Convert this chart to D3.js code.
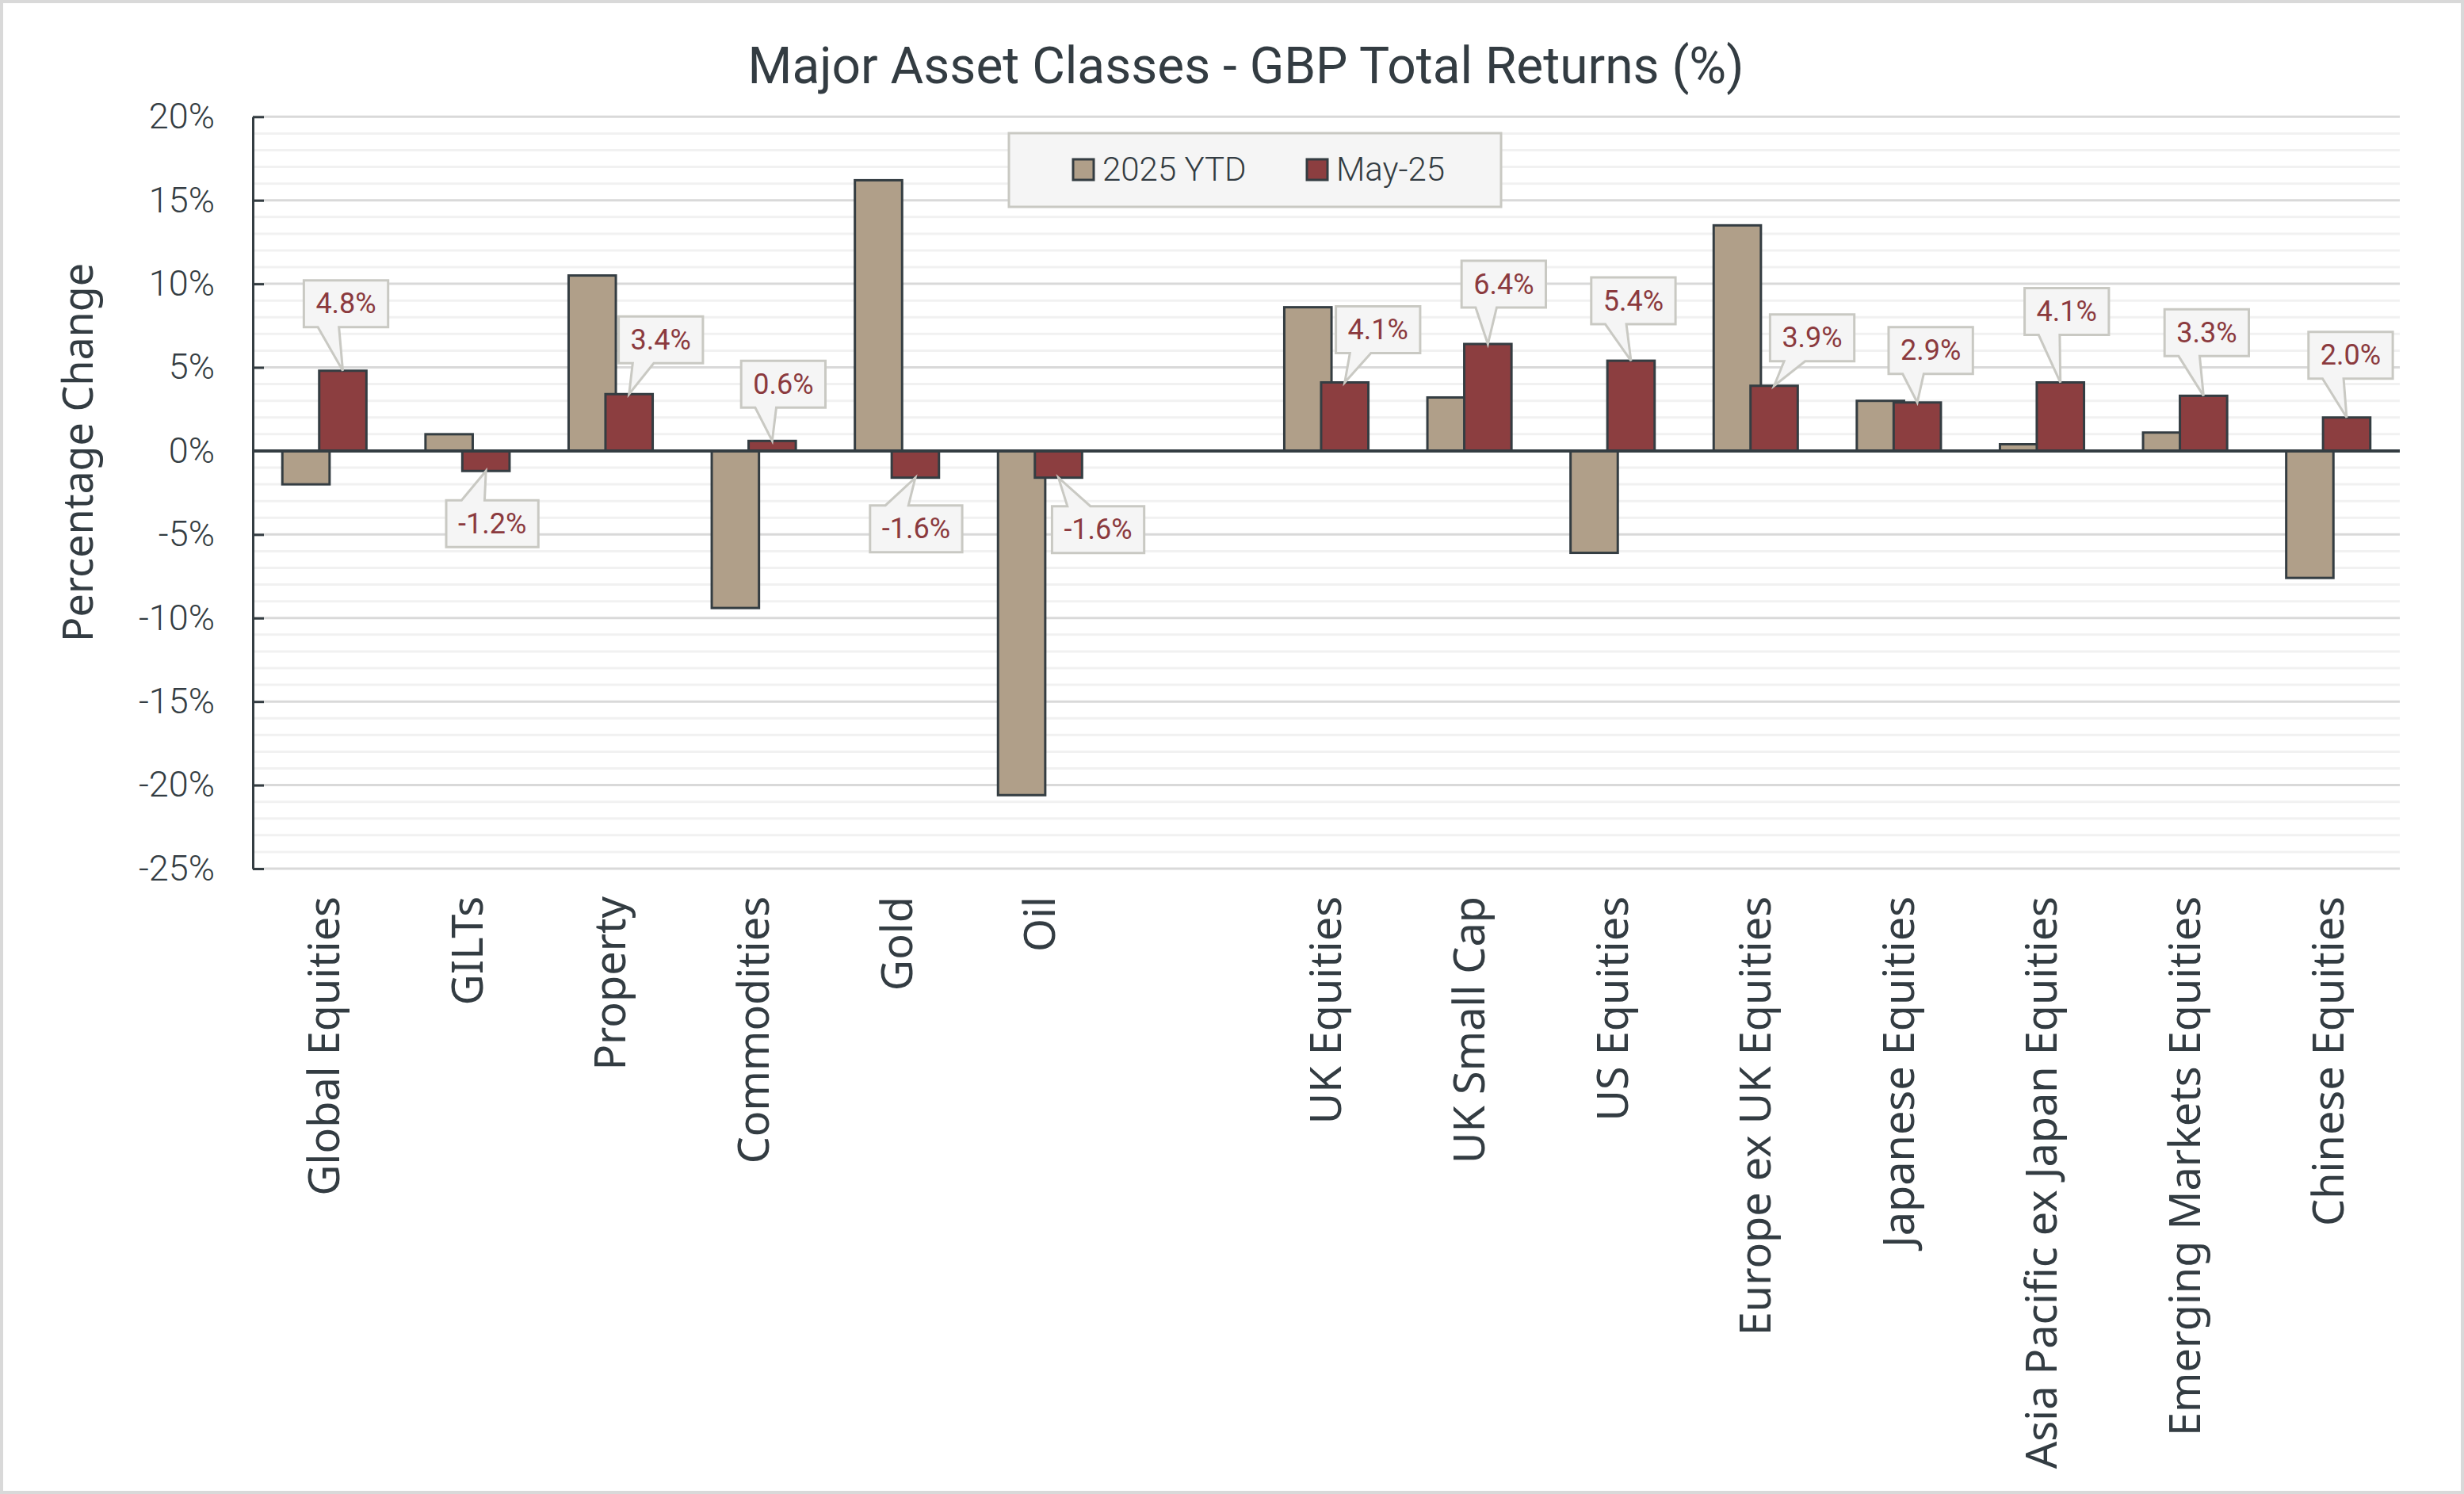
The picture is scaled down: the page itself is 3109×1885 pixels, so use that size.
<!DOCTYPE html>
<html>
<head>
<meta charset="utf-8">
<script src="https://cdn.jsdelivr.net/npm/d3@7"></script>
<style>
  body { margin: 0; background: #fff; }
  svg { display: block; }
</style>
</head>
<body>
<svg id="chart"></svg>
<script>
// categories ("" is the empty slot between the two groups)
const categories = ["Global Equities", "GILTs", "Property", "Commodities", "Gold", "Oil", "",
  "UK Equities", "UK Small Cap", "US Equities", "Europe ex UK Equities", "Japanese Equities",
  "Asia Pacific ex Japan Equities", "Emerging Markets Equities", "Chinese Equities"]
const seriesNames = ["2025 YTD", "May-25"]
const ytd = [-2.0, 1.0, 10.5, -9.4, 16.2, -20.6, null, 8.6, 3.2, -6.1, 13.5, 3.0, 0.4, 1.1, -7.6]
const may = [4.8, -1.2, 3.4, 0.6, -1.6, -1.6, null, 4.1, 6.4, 5.4, 3.9, 2.9, 4.1, 3.3, 2.0]
const yTicks = [-25, -20, -15, -10, -5, 0, 5, 10, 15, 20]

// callout placement (box centre offset from bar end, gap between bar end and box)
const calloutDx = [4, 8, 40, 14, 1, 50, null, 42, 20, 3, 48, 17, 8, 4, 5]
const calloutGap = [55, 37, 39, 42, 35, 36, null, 37, 46, 46, 31, 36, 60, 50, 49]

const W = 3109, H = 1885
const dark = "#343d42"
const colors = ["#b09f89", "#8c3e40"]

const svg = d3.select("#chart").attr("width", W).attr("height", H)

svg.append("rect")
  .attr("x", 2).attr("y", 2).attr("width", W - 4).attr("height", H - 4)
  .attr("fill", "#fff").attr("stroke", "#d9d9d9").attr("stroke-width", 4)

const plot = { left: 319, right: 3028, top: 147.3, bottom: 1096 }

const x = d3.scaleBand().domain(d3.range(categories.length)).range([plot.left, plot.right])
const y = d3.scaleLinear().domain([-25, 20]).range([plot.bottom, plot.top])

const barW = x.bandwidth() * 0.33
const shift = barW * 0.39
const barX = (i, s) => x(i) + x.bandwidth() / 2 + (s === 0 ? -shift : shift) - barW / 2

// grid
svg.append("g").selectAll("line").data(d3.range(-25, 21, 1).filter(d => d % 5 !== 0)).join("line")
  .attr("x1", plot.left).attr("x2", plot.right)
  .attr("y1", d => y(d)).attr("y2", d => y(d))
  .attr("stroke", "#f1f1f1").attr("stroke-width", 3)
svg.append("g").selectAll("line").data(yTicks).join("line")
  .attr("x1", plot.left).attr("x2", plot.right)
  .attr("y1", d => y(d)).attr("y2", d => y(d))
  .attr("stroke", "#d9d9d9").attr("stroke-width", 3)

// title
svg.append("text")
  .attr("x", 1572).attr("y", 105)
  .attr("text-anchor", "middle")
  .style("font-family", "Roboto").style("font-size", "64px")
  .attr("fill", "#333c42")
  .text("Major Asset Classes - GBP Total Returns (%)")

// y axis
const yAxis = d3.axisLeft(y).tickValues(yTicks).tickFormat(d => d + "%")
  .tickSizeInner(-14).tickSizeOuter(0).tickPadding(48)
const yAxisGroup = svg.append("g").attr("transform", `translate(${plot.left},0)`).call(yAxis)
yAxisGroup.select(".domain").attr("stroke", dark).attr("stroke-width", 3)
yAxisGroup.selectAll(".tick line").attr("stroke", dark).attr("stroke-width", 3)
yAxisGroup.selectAll(".tick text")
  .style("font-family", "Roboto").style("font-weight", 300).style("font-size", "45px")
  .attr("fill", "#333c42")

svg.append("text")
  .attr("transform", "translate(99,571) rotate(-90)")
  .attr("text-anchor", "middle").attr("dy", "0.35em")
  .style("font-family", "Noto Sans").style("font-size", "52px")
  .attr("fill", "#333c42")
  .text("Percentage Change")

// bars
const series = [ytd, may]
series.forEach((vals, s) => {
  svg.append("g").selectAll("rect").data(vals.map((v, i) => ({ v, i })).filter(d => d.v !== null)).join("rect")
    .attr("x", d => barX(d.i, s))
    .attr("width", barW)
    .attr("y", d => y(Math.max(0, d.v)))
    .attr("height", d => Math.abs(y(d.v) - y(0)))
    .attr("fill", colors[s])
    .attr("stroke", dark).attr("stroke-width", 3)
})

// zero line
svg.append("line")
  .attr("x1", plot.left).attr("x2", plot.right)
  .attr("y1", y(0)).attr("y2", y(0))
  .attr("stroke", dark).attr("stroke-width", 4)

// category labels
svg.append("g").selectAll("text").data(categories).join("text")
  .attr("transform", (d, i) => `translate(${x(i) + x.bandwidth() / 2},1131) rotate(-90)`)
  .attr("text-anchor", "end").attr("dy", "0.35em")
  .style("font-family", "Noto Sans").style("font-size", "54px")
  .attr("fill", "#333c42")
  .text(d => d)

// callouts on May-25 bars
const boxH = 59
const callouts = svg.append("g")
may.forEach((v, i) => {
  if (v === null) return
  const tipX = barX(i, 1) + barW / 2
  const tipY = y(v)
  const g = callouts.append("g")
  const txt = g.append("text")
    .attr("text-anchor", "middle").attr("dominant-baseline", "central")
    .style("font-family", "Roboto").style("font-size", "36px")
    .attr("fill", "#8b3a3e")
    .text(v.toFixed(1) + "%")
  const bw = txt.node().getComputedTextLength() + 30
  const cx = tipX + calloutDx[i]
  const l = cx - bw / 2, r = cx + bw / 2
  let t, b
  if (v >= 0) { b = tipY - calloutGap[i]; t = b - boxH } else { t = tipY + calloutGap[i]; b = t + boxH }
  const right = tipX > cx
  const x1 = l + bw * (right ? 7 : 2) / 12
  const x2 = l + bw * (right ? 10 : 5) / 12
  const p = d3.path()
  if (v >= 0) {
    p.moveTo(l, t); p.lineTo(r, t); p.lineTo(r, b); p.lineTo(x2, b); p.lineTo(tipX, tipY); p.lineTo(x1, b); p.lineTo(l, b)
  } else {
    p.moveTo(l, t); p.lineTo(x1, t); p.lineTo(tipX, tipY); p.lineTo(x2, t); p.lineTo(r, t); p.lineTo(r, b); p.lineTo(l, b)
  }
  p.closePath()
  g.insert("path", "text").attr("d", p.toString())
    .attr("fill", "#f5f5f5").attr("stroke", "#c9c9c3").attr("stroke-width", 3).attr("stroke-linejoin", "miter")
  txt.attr("x", cx).attr("y", (t + b) / 2)
})

// legend
const legend = svg.append("g")
legend.append("rect")
  .attr("x", 1273).attr("y", 168).attr("width", 621).attr("height", 93)
  .attr("fill", "#f5f5f5").attr("stroke", "#c9c9c3").attr("stroke-width", 3)
const legendX = [1354, 1649]
seriesNames.forEach((name, s) => {
  legend.append("rect")
    .attr("x", legendX[s]).attr("y", 201).attr("width", 26).attr("height", 26)
    .attr("fill", colors[s]).attr("stroke", dark).attr("stroke-width", 3)
  legend.append("text")
    .attr("x", legendX[s] + 37).attr("y", 228)
    .style("font-family", "Roboto").style("font-weight", 300).style("font-size", "42px")
    .attr("fill", "#333c42")
    .text(name)
})
</script>
</body>
</html>
